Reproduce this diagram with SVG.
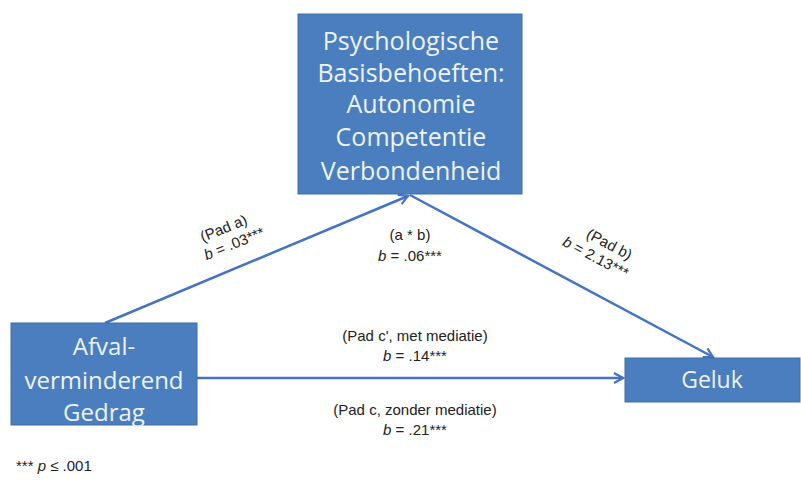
<svg xmlns="http://www.w3.org/2000/svg" width="801" height="486" viewBox="0 0 801 486">
<style>
.box{fill:#4a7ebf;stroke:#3f6fae;stroke-width:1}
.bt{font-family:"Open Sans","Liberation Sans",sans-serif;fill:#eef3fb;text-anchor:middle}
.lbl{font-family:"Liberation Sans","Open Sans",sans-serif;font-size:15px;fill:#222;text-anchor:middle}
.edge{stroke:#4472c4;stroke-width:2.5;fill:none;marker-end:url(#ah)}
</style>
<defs>
<marker id="ah" markerWidth="12" markerHeight="12" refX="10" refY="6" orient="auto" markerUnits="userSpaceOnUse">
<path d="M1,1 L10,6 L1,11" fill="none" stroke="#4472c4" stroke-width="2.2"/>
</marker>
</defs>
<rect width="801" height="486" fill="#ffffff"/>
<g id="connectors">
<line class="edge" x1="105" y1="323" x2="408" y2="196"/>
<line class="edge" x1="410" y1="195" x2="713" y2="357"/>
<line class="edge" x1="197" y1="378" x2="623" y2="378"/>
</g>
<g id="node-psych">
<rect class="box" x="298" y="14" width="224" height="180"/>
<text class="bt" font-size="25" x="411" y="50">Psychologische</text>
<text class="bt" font-size="25" x="411" y="82">Basisbehoeften:</text>
<text class="bt" font-size="25" x="411" y="113">Autonomie</text>
<text class="bt" font-size="25" x="411" y="146">Competentie</text>
<text class="bt" font-size="25" x="411" y="180">Verbondenheid</text>
</g>
<g id="node-afval">
<rect class="box" x="11" y="323" width="186" height="102"/>
<text class="bt" font-size="24" x="104" y="355">Afval-</text>
<text class="bt" font-size="24" x="104" y="389">verminderend</text>
<text class="bt" font-size="24" x="104" y="421">Gedrag</text>
</g>
<g id="node-geluk">
<rect class="box" x="625" y="358" width="175" height="44"/>
<text class="bt" font-size="23" x="712" y="388">Geluk</text>
</g>
<g id="labels">
<g transform="translate(232,238) rotate(-22)">
<text class="lbl" x="-4" y="-7">(Pad a)</text>
<text class="lbl" x="0" y="11"><tspan font-style="italic">b</tspan> = .03***</text>
</g>
<text class="lbl" x="410" y="240">(a * b)</text>
<text class="lbl" x="410" y="261"><tspan font-style="italic">b</tspan> = .06***</text>
<g transform="translate(598,253) rotate(28)">
<text class="lbl" x="6" y="-8">(Pad b)</text>
<text class="lbl" x="0" y="10"><tspan font-style="italic">b</tspan> = 2.13***</text>
</g>
<text class="lbl" x="415" y="341">(Pad c', met mediatie)</text>
<text class="lbl" x="415" y="361"><tspan font-style="italic">b</tspan> = .14***</text>
<text class="lbl" x="415" y="415">(Pad c, zonder mediatie)</text>
<text class="lbl" x="415" y="435"><tspan font-style="italic">b</tspan> = .21***</text>
<text class="lbl" x="16" y="471" style="text-anchor:start">*** <tspan font-style="italic">p</tspan> ≤ .001</text>
</g>
</svg>
